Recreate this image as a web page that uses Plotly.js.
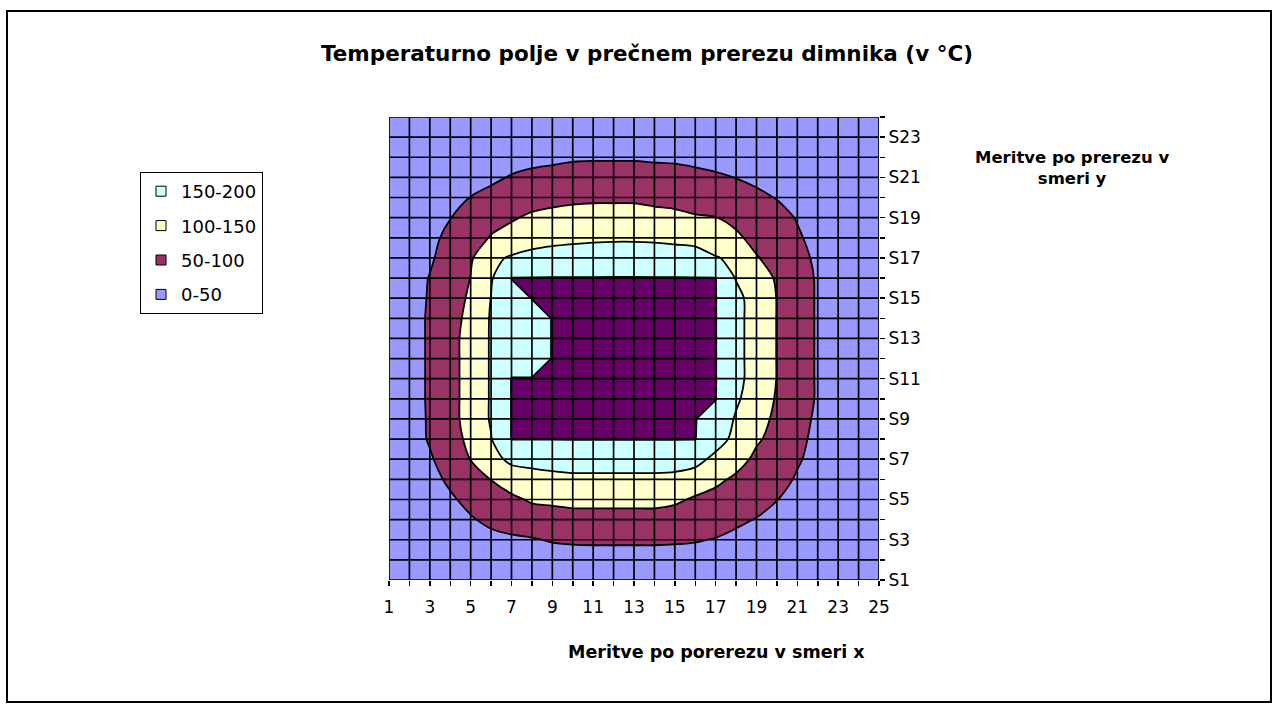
<!DOCTYPE html>
<html>
<head>
<meta charset="utf-8">
<script src="https://cdn.plot.ly/plotly-3.0.1.min.js"></script>
<style>
html,body{margin:0;padding:0;background:#fff;}
#wrap{position:relative;width:1274px;height:704px;}
#chart{width:1274px;height:704px;}
#frame{position:absolute;left:6px;top:10px;width:1266px;height:693px;border:2px solid #000;box-sizing:border-box;pointer-events:none;}
</style>
</head>
<body>
<div id="wrap"><div id="chart"></div><div id="frame"></div></div>
<script>
// x categories (measurement positions across the section)
const xCategories = [1,2,3,4,5,6,7,8,9,10,11,12,13,14,15,16,17,18,19,20,21,22,23,24,25];
// y series labels
const yLabels = ['S1','S2','S3','S4','S5','S6','S7','S8','S9','S10','S11','S12','S13','S14','S15','S16','S17','S18','S19','S20','S21','S22','S23','S24'];
// legend band labels (top to bottom as shown)
const bandLabels = ['150-200','100-150','50-100','0-50'];

// temperatures (°C) for each series row, x = 1..25
const tS1  = [9,10,12,14,16,18,20,21,22,22,22,22,22,22,22,21,20,19,17,15,13,11,10,8,7];
const tS2  = [10,12,15,18,22,25,28,31,32,34,34,34,34,34,33,32,30,27,23,20,17,14,11,9,8];
const tS3  = [12,15,19,24,30,38,44,47,53,55,56,56,56,56,55,53,48,40,33,27,22,17,13,11,9];
const tS4  = [14,18,24,32,46,60,67,75,78,82,82,82,82,82,78,76,70,58,48,35,28,21,16,12,10];
const tS5  = [16,22,30,44,62,75,90,106,110,114,114,114,114,114,108,94,85,78,68,51,34,25,19,14,11];
const tS6  = [18,25,36,58,80,101,125,132,137,140,140,140,140,140,138,128,110,92,80,67,45,30,21,15,11];
const tS7  = [19,28,45,72,101,135,160,165,169,172,172,172,172,172,170,165,138,118,90,75,55,35,23,17,12];
const tS8  = [20,30,54,80,112,148,201,201,201,201,201,201,201,201,201,201,170,137,106,85,62,38,25,17,12];
const tS9  = [21,30,55,85,118,154,201,220,220,220,220,220,220,220,220,201,185,145,115,92,67,42,26,18,13];
const tS10 = [22,30,56,85,118,154,201,220,220,220,220,220,220,220,220,220,201,157,125,96,70,46,27,18,13];
const tS11 = [22,30,56,85,118,154,201,201,220,220,220,220,220,220,220,220,201,165,128,99,70,46,27,18,13];
const tS12 = [22,30,56,85,118,154,185,185,201,220,220,220,220,220,220,220,201,165,128,99,70,46,27,18,13];
const tS13 = [22,30,56,85,118,154,185,185,201,220,220,220,220,220,220,220,201,165,128,99,70,46,27,18,13];
const tS14 = [22,30,56,83,113,154,185,185,201,220,220,220,220,220,220,220,201,165,128,99,70,46,27,18,13];
const tS15 = [22,30,54,79,107,151,185,201,220,220,220,220,220,220,220,220,201,165,126,99,70,46,26,18,13];
const tS16 = [21,30,52,72,101,145,201,201,201,201,201,201,201,201,201,201,201,147,118,96,68,46,26,18,13];
const tS17 = [20,29,44,70,94,140,155,168,175,178,181,182,182,181,178,172,153,140,103,82,62,43,24,17,12];
const tS18 = [19,26,38,62,80,103,118,125,132,137,140,142,142,140,136,133,120,108,86,70,56,35,22,16,12];
const tS19 = [17,23,32,49,68,85,95,108,115,118,120,120,120,116,112,104,101,88,76,66,47,30,20,14,11];
const tS20 = [15,20,26,35,51,62,75,80,85,90,92,92,92,87,84,80,76,68,60,48,31,23,17,13,10];
const tS21 = [13,17,21,27,33,42,53,60,64,67,68,68,68,67,65,62,56,49,40,31,24,19,14,11,9];
const tS22 = [11,13,17,20,24,29,33,38,41,45,46,46,46,44,43,38,34,31,27,22,19,15,12,10,8];
const tS23 = [9,11,13,16,18,20,22,24,25,26,26,26,26,26,26,25,23,21,19,17,14,12,10,9,7];
const tS24 = [8,9,11,12,13,15,16,17,18,18,18,18,18,18,18,17,17,16,14,13,11,10,9,7,6];

const zRows = [tS1,tS2,tS3,tS4,tS5,tS6,tS7,tS8,tS9,tS10,tS11,tS12,tS13,tS14,tS15,tS16,tS17,tS18,tS19,tS20,tS21,tS22,tS23,tS24];
const yIndex = yLabels.map((_, i) => i + 1);

// styling
const bandColorMap = {'0-50':'#9999FF','50-100':'#993366','100-150':'#FFFFCC','150-200':'#CCFFFF'};
const topColor = '#660066';

// bands 0-50 .. 150-200 (smooth iso-lines)
const bandTrace = {
  type: 'contour',
  x: xCategories, y: yIndex, z: zRows,
  autocontour: false,
  contours: {start: 50, end: 150, size: 50, coloring: 'fill', showlines: true},
  colorscale: [[0, bandColorMap['0-50']], [1/3, bandColorMap['50-100']], [2/3, bandColorMap['100-150']], [1, bandColorMap['150-200']]],
  showscale: false,
  line: {color: '#000', width: 1.8, smoothing: 0.9},
  hoverinfo: 'skip', showlegend: false
};

// region above 200 (angular outline)
const topTrace = {
  type: 'contour',
  x: xCategories, y: yIndex, z: zRows,
  autocontour: false,
  contours: {start: 200, end: 250, size: 50, coloring: 'fill', showlines: true},
  colorscale: [[0, 'rgba(255,255,255,0)'], [0.5, topColor], [1, topColor]],
  showscale: false,
  line: {color: '#000', width: 1.8, smoothing: 0},
  hoverinfo: 'skip', showlegend: false
};

const legendTraces = bandLabels.map(lbl => ({
  type: 'scatter', mode: 'markers', x: [null], y: [null],
  name: lbl, legendgroup: lbl, showlegend: true, hoverinfo: 'skip',
  marker: {symbol: 'square', size: 10, color: bandColorMap[lbl], line: {color: '#000', width: 1}}
}));

// grid lines drawn over the filled contours
const shapes = [];
xCategories.forEach(v => shapes.push({type:'line', xref:'x', yref:'y', x0:v, x1:v, y0:yIndex[0], y1:yIndex[yIndex.length-1], line:{color:'#000', width:1.7}, layer:'above'}));
yIndex.forEach(v => shapes.push({type:'line', xref:'x', yref:'y', y0:v, y1:v, x0:xCategories[0], x1:xCategories[xCategories.length-1], line:{color:'#000', width:1.7}, layer:'above'}));

const W = 1274, H = 704;
const L = 389, R = 395, T = 117, B = 124;
const pw = W - L - R, ph = H - T - B;
const px = v => (v - L) / pw;
const py = v => (H - B - v) / ph;

const layout = {
  width: W, height: H,
  margin: {l: L, r: R, t: T, b: B, pad: 0},
  paper_bgcolor: '#fff', plot_bgcolor: '#fff',
  title: {
    text: 'Temperaturno polje v prečnem prerezu dimnika (v °C)',
    font: {family: 'DejaVu Sans', size: 21.5, weight: 'bold', color: '#000'},
    xref: 'container', x: 647 / W, xanchor: 'center',
    yref: 'container', y: 1 - 53 / H, yanchor: 'middle'
  },
  xaxis: {
    range: [xCategories[0], xCategories[xCategories.length-1]],
    tickmode: 'array', tickvals: xCategories,
    ticktext: xCategories.map((v, i) => i % 2 === 0 ? String(v) : ''),
    ticks: 'outside', ticklen: 5, tickwidth: 1.5, tickcolor: '#000',
    ticklabelstandoff: 7,
    showgrid: false, zeroline: false, showline: false,
    tickfont: {family: 'DejaVu Sans', size: 17, color: '#000'},
    fixedrange: true
  },
  yaxis: {
    side: 'right',
    range: [yIndex[0], yIndex[yIndex.length-1]],
    tickmode: 'array', tickvals: yIndex,
    ticktext: yLabels.map((s, i) => i % 2 === 0 ? s : ''),
    ticks: 'outside', ticklen: 5, tickwidth: 1.5, tickcolor: '#000',
    showgrid: false, zeroline: false, showline: false,
    tickfont: {family: 'DejaVu Sans', size: 17, color: '#000'},
    fixedrange: true
  },
  legend: {
    x: px(140), y: py(172), xanchor: 'left', yanchor: 'top',
    bgcolor: '#fff', bordercolor: '#000', borderwidth: 1,
    font: {family: 'DejaVu Sans', size: 18, color: '#000'},
    tracegroupgap: 8
  },
  annotations: [
    {text: 'Meritve po porerezu v smeri x', xref: 'paper', yref: 'paper', x: px(716), y: py(652),
     xanchor: 'center', yanchor: 'middle', showarrow: false,
     font: {family: 'DejaVu Sans', size: 17.5, weight: 'bold', color: '#000'}},
    {text: 'Meritve po prerezu v<br>smeri y', xref: 'paper', yref: 'paper', x: px(1072), y: py(168),
     xanchor: 'center', yanchor: 'middle', showarrow: false, align: 'center',
     font: {family: 'DejaVu Sans', size: 16.5, weight: 'bold', color: '#000'}}
  ],
  shapes: shapes,
  showlegend: true
};

Plotly.newPlot('chart', [bandTrace, topTrace].concat(legendTraces), layout, {displayModeBar: false, staticPlot: true});
</script>
</body>
</html>
